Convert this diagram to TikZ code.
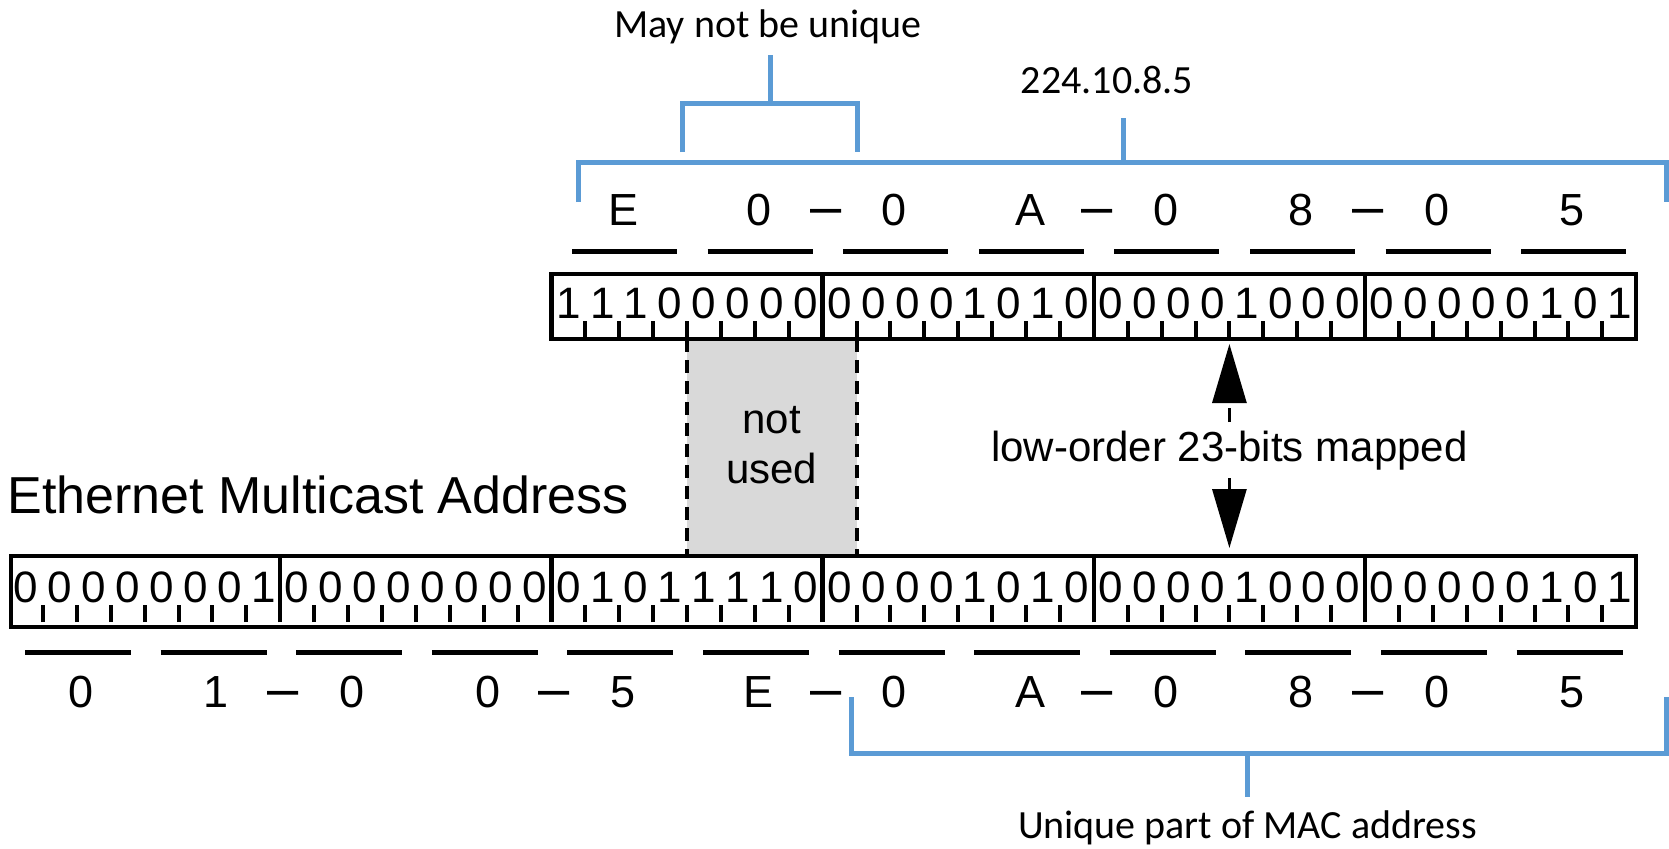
\documentclass[tikz,border=0pt]{standalone}
\usepackage{fontspec}
\setmainfont{Liberation Sans}
\newfontfamily\calibri{Carlito}
\usetikzlibrary{arrows.meta}
\definecolor{braceblue}{RGB}{91,155,213}
\definecolor{unusedgray}{RGB}{217,217,217}
\tikzstyle{bit}=[inner sep=0pt, anchor=base, font=\fontsize{22}{22}\selectfont]
\tikzstyle{hex}=[inner sep=0pt, anchor=base, font=\fontsize{22.5}{22.5}\selectfont]
\tikzstyle{sep}=[inner sep=0pt, anchor=base, font=\fontsize{28}{28}\selectfont]
\tikzstyle{frame}=[draw, line width=2.2pt]
\tikzstyle{tick}=[line width=2pt]
\tikzstyle{uline}=[line width=2.5pt]
\tikzstyle{brace}=[draw=braceblue, line width=2.5pt, line join=miter]
\tikzstyle{captext}=[inner sep=0pt, font=\calibri\fontsize{20}{20}\selectfont]
\tikzstyle{remark}=[inner sep=0pt, font=\fontsize{21}{25}\selectfont]
\tikzstyle{dashedge}=[line width=2pt, dash pattern=on 6.5pt off 4pt]
\tikzstyle{maparrow}=[line width=1.5pt, -{Triangle[length=29.5pt,width=17pt]},
    dash pattern=on 7pt off 60pt, shorten <=4pt]
\newcommand{\bitnode}{\node[bit]}
\newcommand{\hexnode}{\node[hex]}

\begin{document}
\begin{tikzpicture}[x=0.5pt, y=0.5pt]
\useasboundingbox (0,0) rectangle (1669,-848);

% unused bits between the two addresses
\coordinate (nu-tl) at (687,-339);
\coordinate (nu-tr) at (856.6,-339);
\coordinate (nu-bl) at (687,-556);
\coordinate (nu-br) at (856.6,-556);
\fill[unusedgray] (nu-tl) rectangle (nu-br);
\draw[dashedge] (nu-tl) -- (nu-bl);
\draw[dashedge] (nu-tr) -- (nu-br);
\node[remark, align=center] (unused) at (771.8,-445) {not\\used};

% IP address 224.10.8.5
\foreach \b [count=\i from 0] in {1,1,1,0,0,0,0,0, 0,0,0,0,1,0,1,0,
                                  0,0,0,0,1,0,0,0, 0,0,0,0,0,1,0,1}
  \bitnode (up\i) at ({551.4+(\i+0.5)*33.9},-318) {\b};
\foreach \i in {1,...,31}
  \draw[tick] ({551.4+\i*33.9},-339) -- ++(0,18);
\foreach \i in {8,16,24}
  \draw[frame] ({551.4+\i*33.9},-339) -- ({551.4+\i*33.9},-274);
\draw[frame] (551.4,-274) rectangle (1636.2,-339);
\foreach \h [count=\i from 0] in {E,0,0,A,0,8,0,5} {
  \hexnode (uh\i) at ({555.4+(\i+0.5)*135.6},-225) {\h};
  \draw[uline] ({572+\i*135.6},-251) -- ({677+\i*135.6},-251);
}
\foreach \k in {1,2,3}
  \node[sep] (ud\k) at ({554.4+\k*271.2},-225) {\textendash};

% Ethernet address 01-00-5E-0A-08-05
\node[remark, font=\fontsize{26}{26}\selectfont, anchor=base west] (ether) at (7,-513) {Ethernet Multicast Address};
\foreach \b [count=\i from 0] in {0,0,0,0,0,0,0,1, 0,0,0,0,0,0,0,0,
                                  0,1,0,1,1,1,1,0, 0,0,0,0,1,0,1,0,
                                  0,0,0,0,1,0,0,0, 0,0,0,0,0,1,0,1}
  \bitnode (lo\i) at ({9+(\i+0.5)*33.9},-602) {\b};
\foreach \i in {1,...,47}
  \draw[tick] ({9+\i*33.9},-622) -- ++(0,17);
\foreach \i in {8,16,...,40}
  \draw[frame] ({9+\i*33.9},-622) -- ({9+\i*33.9},-556);
\draw[frame] (11,-556) rectangle (1636.2,-627);
\foreach \h [count=\i from 0] in {0,1,0,0,5,E,0,A,0,8,0,5} {
  \hexnode (lh\i) at ({13+(\i+0.5)*135.6},-707) {\h};
  \draw[uline] ({25+\i*135.6},-652) -- ({131+\i*135.6},-652);
}
\foreach \k in {1,...,5}
  \node[sep] (ld\k) at ({12+\k*271.2},-707) {\textendash};

% mapping arrows
\node[remark, anchor=base] (mapped) at (1229.4,-461) {low-order 23-bits mapped};
\coordinate (mapped-up) at (1229.4,-344);
\coordinate (mapped-dn) at (1229.4,-548);
\draw[maparrow] (mapped.north) -- (mapped-up);
\draw[maparrow] (mapped.south) -- (mapped-dn);

% brackets
\node[captext] (maynot) at (768,-27) {May not be unique};
\coordinate (mn-l) at (682,-152);
\coordinate (mn-mid) at (770,-103);
\coordinate (mn-r) at (857,-152);
\draw[brace] (mn-l) |- (mn-mid) -| (mn-r);
\draw[brace, shorten >=5pt] (mn-mid) -- (mn-mid |- maynot.south);

\node[captext] (ipaddr) at (1107,-80) {224.10.8.5};
\coordinate (ip-l) at (578,-202);
\coordinate (ip-mid) at (1123,-162);
\coordinate (ip-r) at (1666,-202);
\draw[brace] (ip-l) |- (ip-mid) -| (ip-r);
\draw[brace, shorten >=12pt] (ip-mid) -- (ip-mid |- ipaddr.south);

\node[captext] (unique) at (1247.5,-828) {Unique part of MAC address};
\coordinate (uq-l) at (851.5,-697);
\coordinate (uq-mid) at (1247.5,-753);
\coordinate (uq-r) at (1666,-697);
\draw[brace] (uq-l) |- (uq-mid) -| (uq-r);
\draw[brace, shorten >=7pt] (uq-mid) -- (uq-mid |- unique.north);
\end{tikzpicture}
\end{document}
